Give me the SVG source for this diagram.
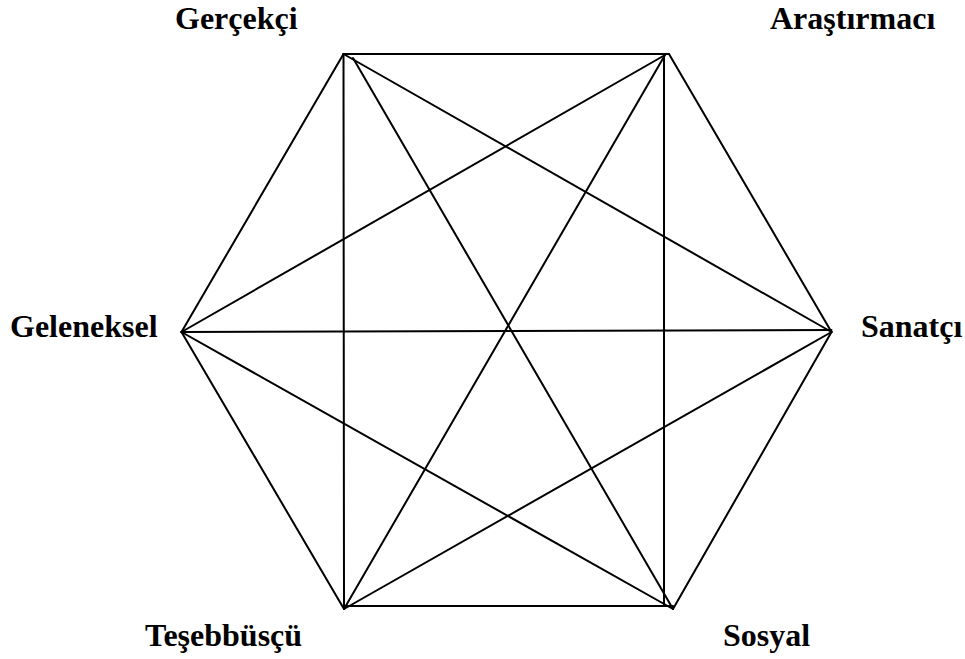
<svg xmlns="http://www.w3.org/2000/svg" width="965" height="659" viewBox="0 0 965 659">
<style>
.lbl{font-family:"Liberation Serif","Times New Roman",serif;font-weight:bold;font-size:32px;fill:#000}
.ln{stroke:#000;stroke-width:2;fill:none;stroke-linecap:round}
</style>
<rect width="965" height="659" fill="#fff"/>
<g id="connectors">
<line class="ln" x1="343.5" y1="54" x2="669" y2="54"/>
<line class="ln" x1="669" y1="54" x2="831.5" y2="332"/>
<line class="ln" x1="831.5" y1="332" x2="673" y2="609"/>
<line class="ln" x1="344" y1="606" x2="673" y2="606"/>
<line class="ln" x1="344" y1="609" x2="181.5" y2="332"/>
<line class="ln" x1="181.5" y1="332" x2="343.5" y2="54"/>
<line class="ln" x1="343.5" y1="54" x2="831.5" y2="332"/>
<line class="ln" x1="353" y1="58" x2="673" y2="609"/>
<line class="ln" x1="343.5" y1="54" x2="344" y2="609"/>
<line class="ln" x1="665" y1="55" x2="181.5" y2="332"/>
<line class="ln" x1="665" y1="55" x2="344" y2="609"/>
<line class="ln" x1="664" y1="54" x2="664" y2="606"/>
<line class="ln" x1="181.5" y1="332" x2="831.5" y2="330"/>
<line class="ln" x1="831.5" y1="332" x2="344" y2="609"/>
<line class="ln" x1="181.5" y1="332" x2="673" y2="609"/>
</g>
<g id="gercekci"><text class="lbl" x="175" y="29">Gerçekçi</text></g>
<g id="arastirmaci"><text class="lbl" x="770" y="29">Araştırmacı</text></g>
<g id="geleneksel"><text class="lbl" x="10" y="337">Geleneksel</text></g>
<g id="sanatci"><text class="lbl" x="861" y="337">Sanatçı</text></g>
<g id="tesebbuscu"><text class="lbl" x="145" y="646">Teşebbüsçü</text></g>
<g id="sosyal"><text class="lbl" x="723" y="646">Sosyal</text></g>
</svg>
